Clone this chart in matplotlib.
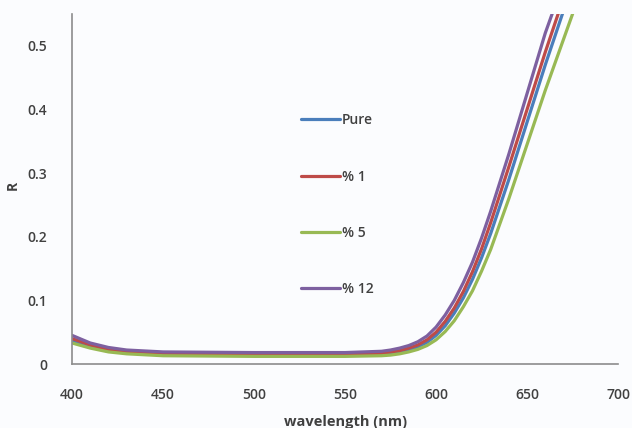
import matplotlib
matplotlib.use("Agg")
import matplotlib.pyplot as plt

# -----------------------------------
# Data
# -----------------------------------

wavelength = [400, 410, 420, 430, 450, 500, 550, 570, 575, 580, 585, 590, 595,
              600, 605, 610, 615, 620, 625, 630, 640, 650, 660, 670, 680]

r_pure = [0.037, 0.028, 0.021, 0.018, 0.015, 0.014, 0.014, 0.015, 0.017, 0.019,
          0.022, 0.027, 0.034, 0.045, 0.060, 0.080, 0.104, 0.133, 0.167, 0.205,
          0.290, 0.380, 0.470, 0.555, 0.630]
r_1 = [0.040, 0.030, 0.023, 0.019, 0.016, 0.015, 0.015, 0.017, 0.019, 0.021,
       0.025, 0.030, 0.038, 0.050, 0.067, 0.088, 0.114, 0.145, 0.181, 0.222,
       0.310, 0.400, 0.490, 0.575, 0.650]
r_5 = [0.033, 0.025, 0.019, 0.016, 0.013, 0.012, 0.012, 0.013, 0.014, 0.016,
       0.019, 0.023, 0.029, 0.038, 0.051, 0.068, 0.090, 0.115, 0.146, 0.180,
       0.260, 0.345, 0.430, 0.510, 0.590]
r_12 = [0.045, 0.033, 0.026, 0.022, 0.019, 0.018, 0.018, 0.020, 0.022, 0.025,
        0.029, 0.035, 0.044, 0.058, 0.077, 0.100, 0.128, 0.160, 0.198, 0.240,
        0.330, 0.425, 0.520, 0.600, 0.670]

labels = ["Pure", "% 1", "% 5", "% 12"]
colors = ["#4a7ebb", "#be4b48", "#98b954", "#7d60a0"]
series = [r_pure, r_1, r_5, r_12]

x_ticks = [400, 450, 500, 550, 600, 650, 700]
y_ticks = [0, 0.1, 0.2, 0.3, 0.4, 0.5]
y_tick_labels = ["0", "0.1", "0.2", "0.3", "0.4", "0.5"]

# -----------------------------------
# Plot
# -----------------------------------

plt.rcParams['font.family'] = ['Open Sans', 'DejaVu Sans']

fig = plt.figure(figsize=(6.32, 4.28), dpi=100)
fig.patch.set_facecolor("#fbfcfe")
ax = fig.add_axes([0.114, 0.1495, 0.864, 0.818])
ax.set_facecolor("#fbfcfe")

for vals, lab, col in zip(series, labels, colors):
    ax.plot(wavelength, vals, color=col, linewidth=2.3, label=lab,
            solid_capstyle="round", solid_joinstyle="round")

ax.set_xlim(400, 700)
ax.set_ylim(0, 0.55)
ax.set_xticks(x_ticks)
ax.set_yticks(y_ticks)
ax.set_yticklabels(y_tick_labels)

for side in ["top", "right"]:
    ax.spines[side].set_visible(False)
for side in ["left", "bottom"]:
    ax.spines[side].set_color("#8c8c8c")
    ax.spines[side].set_linewidth(1.2)

ax.tick_params(axis="x", length=0, pad=17, labelsize=10, labelcolor="#404040")
ax.tick_params(axis="y", length=0, pad=18, labelsize=10, labelcolor="#404040")
for t in ax.get_xticklabels() + ax.get_yticklabels():
    t.set_fontweight("semibold")

ax.set_xlabel("wavelength (nm)", fontsize=10.5, fontweight="bold", color="#404040")
ax.xaxis.set_label_coords(0.5, -0.145)
ax.set_ylabel("R", fontsize=10, fontweight="bold", color="#404040")
ax.yaxis.set_label_coords(-0.095, 0.51)

leg = ax.legend(loc="upper left", bbox_to_anchor=(0.397, 0.752), frameon=False,
                handlelength=2.8, handletextpad=0.1, labelspacing=3.05,
                fontsize=10)
for t in leg.get_texts():
    t.set_fontweight("semibold")
    t.set_color("#404040")

fig.savefig("out.png", dpi=100, facecolor=fig.get_facecolor())
